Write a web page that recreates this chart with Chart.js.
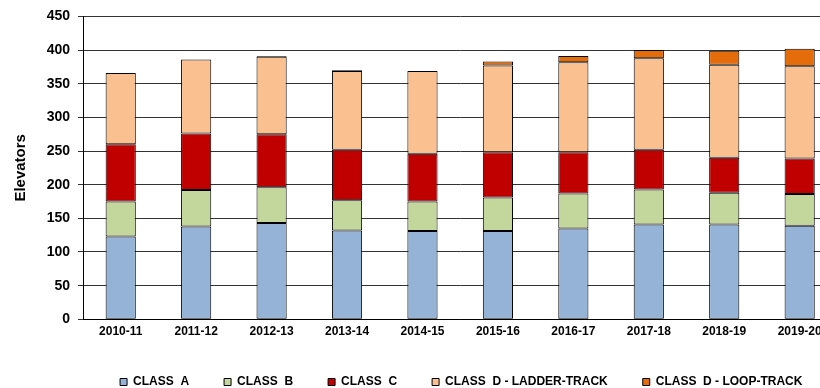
<!DOCTYPE html>
<html>
<head>
<meta charset="utf-8">
<script src="https://cdn.jsdelivr.net/npm/chart.js@4/dist/chart.umd.min.js"></script>
<style>
  html, body { margin: 0; padding: 0; background: #fff; overflow: hidden; }
  #chart { display: block; }
</style>
</head>
<body>
<canvas id="chart" width="860" height="398"></canvas>
<script>
// years on the x axis
const years = ['2010-11', '2011-12', '2012-13', '2013-14', '2014-15',
               '2015-16', '2016-17', '2017-18', '2018-19', '2019-20'];

// elevators per class
const classA      = [123, 138, 143, 132, 131, 131, 135, 141, 141, 139];
const classB      = [52, 54, 53, 45, 44, 50, 52, 52, 47, 47];
const classC      = [85, 84, 79, 75, 71, 67, 61, 59, 52, 53];
const ladderTrack = [106, 110, 115, 117, 123, 129, 134, 136, 138, 137];
const loopTrack   = [0, 0, 1, 1, 0, 6, 9, 12, 21, 26];

const seriesNames = ['CLASS  A', 'CLASS  B', 'CLASS  C', 'CLASS  D - LADDER-TRACK', 'CLASS  D - LOOP-TRACK'];
const seriesColors = ['#95B3D7', '#C3D69B', '#C00000', '#FAC090', '#E46C0A'];

const FONT = '"Liberation Sans", Arial, sans-serif';

const datasets = [classA, classB, classC, ladderTrack, loopTrack].map((vals, i) => ({
    label: seriesNames[i],
    data: vals,
    backgroundColor: seriesColors[i],
    borderColor: '#000',
    borderWidth: 1,
    borderSkipped: false,
    barPercentage: 0.4,
    categoryPercentage: 1.0
}));

new Chart(document.getElementById('chart'), {
    type: 'bar',
    data: { labels: years, datasets: datasets },
    options: {
        responsive: false,
        animation: false,
        devicePixelRatio: 1,
        layout: { padding: { top: 15.7, right: 22.6, bottom: 0, left: 0 } },
        plugins: {
            tooltip: { enabled: false },
            legend: {
                position: 'bottom',
                align: 'end',
                labels: {
                    boxWidth: 7,
                    boxHeight: 7,
                    padding: 35,
                    color: '#000',
                    font: { family: FONT, size: 12, weight: 'bold' }
                }
            }
        },
        scales: {
            x: {
                stacked: true,
                grid: { display: false, drawTicks: false },
                border: { display: true, color: '#000', width: 1 },
                ticks: {
                    padding: 5,
                    color: '#000',
                    font: { family: FONT, size: 12, weight: 'bold' }
                },
                // legend is 57px tall, plot bottom sits at y=319.3
                afterFit: (scale) => { scale.height = 21.7; }
            },
            y: {
                stacked: true,
                min: 0,
                max: 450,
                grid: {
                    color: '#333',
                    lineWidth: 1,
                    drawTicks: true,
                    tickLength: 5
                },
                border: { display: true, color: '#000', width: 1 },
                ticks: {
                    stepSize: 50,
                    padding: 8,
                    color: '#000',
                    font: { family: FONT, size: 14, weight: 'bold' }
                },
                title: {
                    display: true,
                    text: 'Elevators',
                    color: '#000',
                    padding: { top: 12, bottom: 0 },
                    font: { family: FONT, size: 15, weight: 'bold' }
                },
                afterFit: (scale) => { scale.width = 83; }
            }
        }
    }
});
</script>
</body>
</html>
